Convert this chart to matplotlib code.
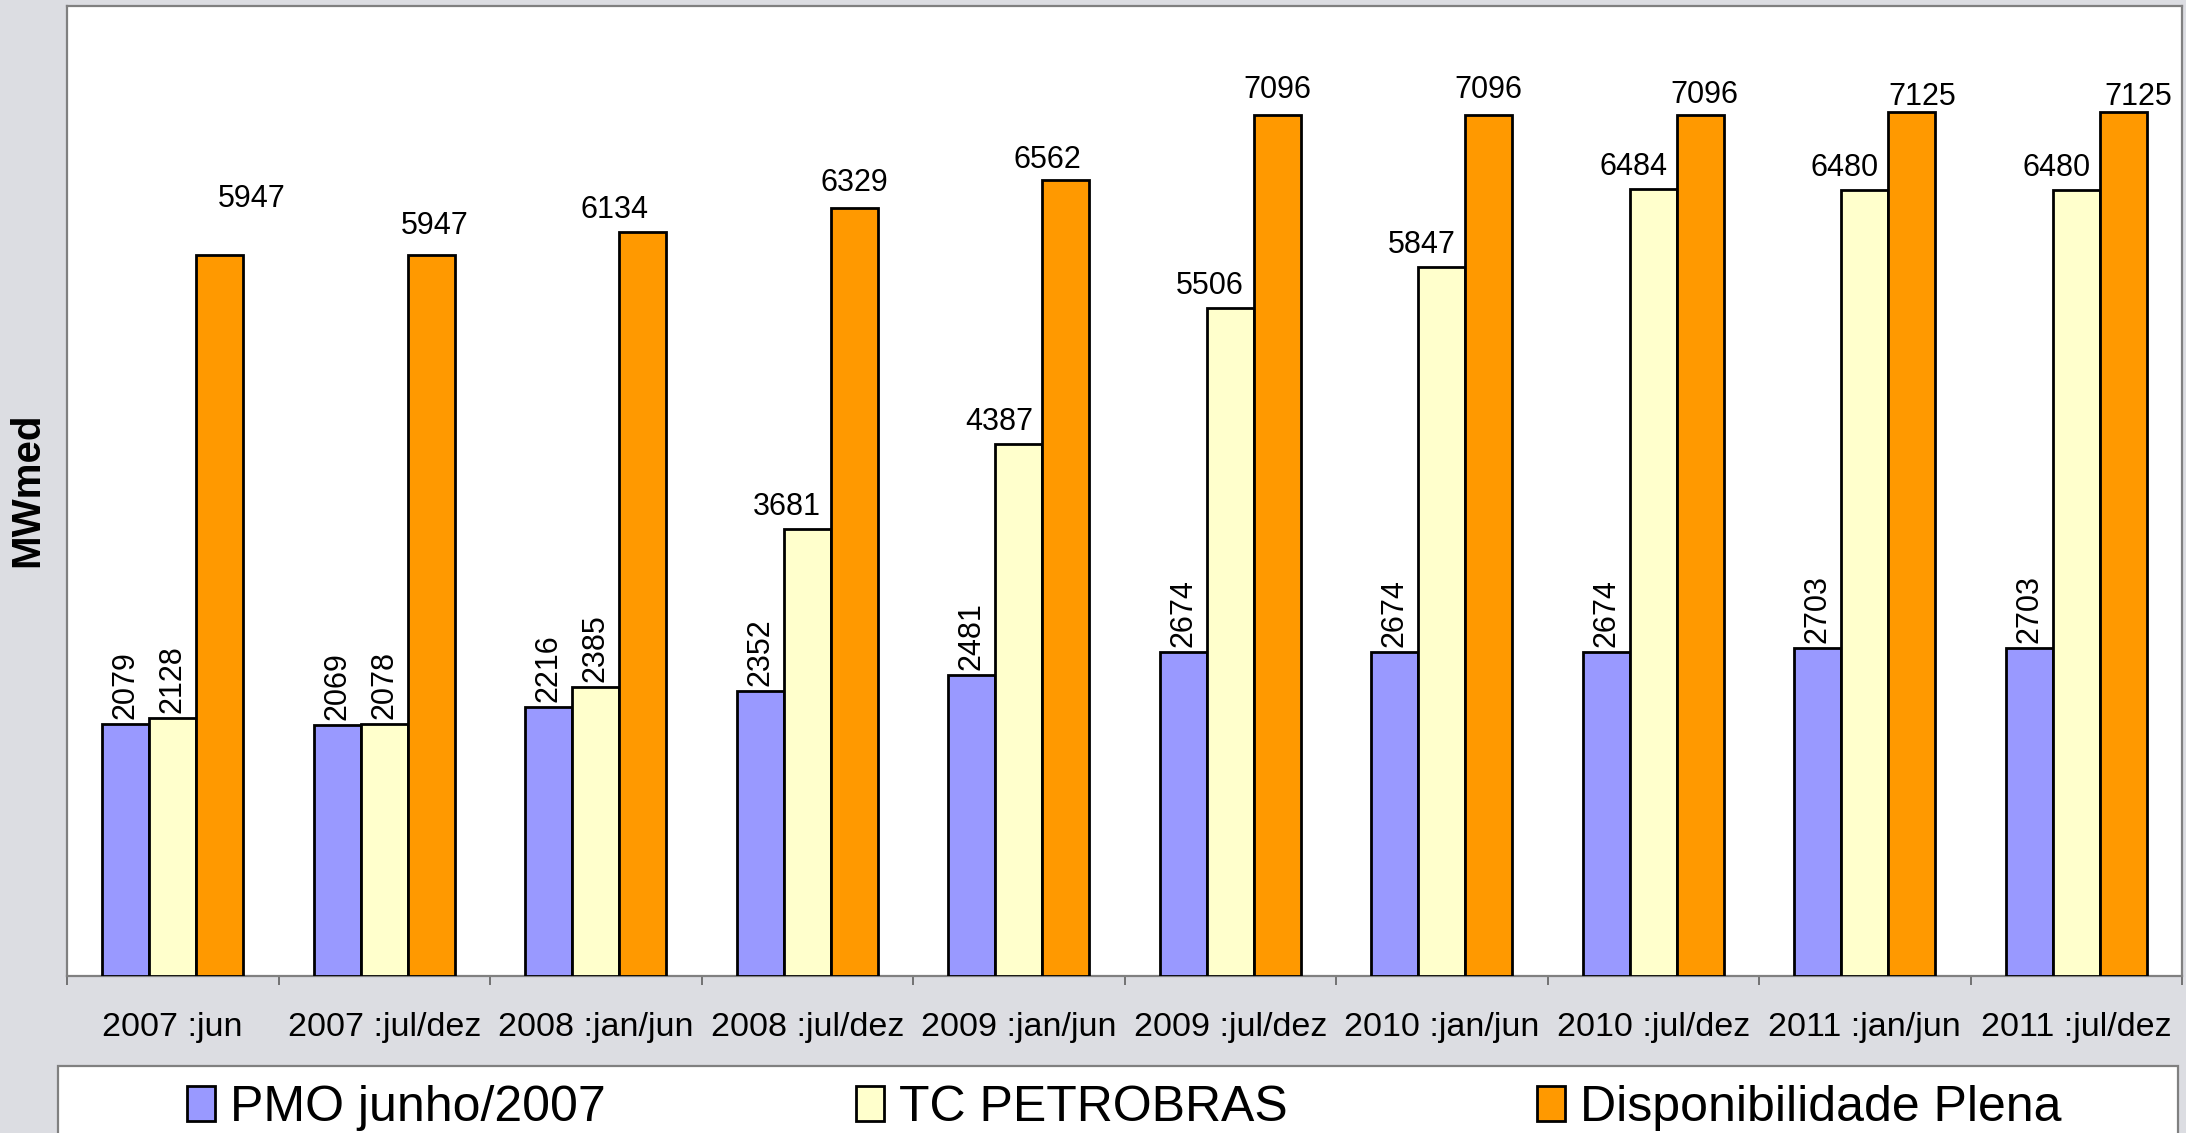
import numpy as np
import matplotlib
matplotlib.use("Agg")
from matplotlib import pyplot as plt
from matplotlib.patches import Patch, Rectangle

# data
periods = ["2007 :jun", "2007 :jul/dez", "2008 :jan/jun", "2008 :jul/dez",
           "2009 :jan/jun", "2009 :jul/dez", "2010 :jan/jun", "2010 :jul/dez",
           "2011 :jan/jun", "2011 :jul/dez"]
pmo = [2079, 2069, 2216, 2352, 2481, 2674, 2674, 2674, 2703, 2703]
tc_petrobras = [2128, 2078, 2385, 3681, 4387, 5506, 5847, 6484, 6480, 6480]
disp_plena = [5947, 5947, 6134, 6329, 6562, 7096, 7096, 7096, 7125, 7125]
series_names = ["PMO junho/2007", "TC PETROBRAS", "Disponibilidade Plena"]

# label nudges (pixels) for the orange labels, as placed in the original
orange_dx = [32, 4, -28, 0, -18, 0, 0, 4, 11, 15]
orange_dy = [56, 29, 22, 25, 20, 25, 25, 20, 15, 15]

colors = ["#9999FF", "#FFFFCC", "#FF9900"]
bg = "#DCDDE2"
plt.rcParams['font.family'] = ['Liberation Sans', 'DejaVu Sans']

W, H = 2186, 1133
fig = plt.figure(figsize=(W / 100, H / 100), dpi=100, facecolor=bg)
ax = fig.add_axes([67 / W, 1 - 976 / H, (2182 - 67) / W, (976 - 5.6) / H])
ax.set_facecolor("white")

x = np.arange(len(periods))
bw = 0.222
px = 0.72  # points per pixel at dpi 100

for k, vals in enumerate([pmo, tc_petrobras, disp_plena]):
    pos = x + (k - 1) * bw
    ax.bar(pos, vals, width=bw, color=colors[k], edgecolor="black", linewidth=2.0, zorder=3)
    for i, (p, v) in enumerate(zip(pos, vals)):
        if v < 3000:
            ax.annotate(str(v), (p, v), xytext=(0, 5 * px), textcoords="offset points",
                        ha="center", va="bottom", rotation=90, fontsize=22)
        elif k == 2:
            ax.annotate(str(v), (p, v), xytext=(orange_dx[i] * px, orange_dy[i] * px),
                        textcoords="offset points", ha="center", va="center", fontsize=22)
        else:
            ax.annotate(str(v), (p, v), xytext=(-20 * px, 22 * px),
                        textcoords="offset points", ha="center", va="center", fontsize=22)

ax.set_xlim(-0.5, len(periods) - 0.5)
ax.set_ylim(0, 8000)
ax.set_yticks([])
ax.set_xticks(x)
ax.set_xticklabels(periods, fontsize=24.5)
ax.set_xticks(np.arange(len(periods) + 1) - 0.5, minor=True)
ax.tick_params(axis="x", which="major", length=0, pad=26)
ax.tick_params(axis="x", which="minor", length=6.5, width=1.2, color="#606060", direction="out")
for s in ax.spines.values():
    s.set_color("#808080")
    s.set_linewidth(1.6)

fig.text(27.5 / W, 1 - 490 / H, "MWmed", rotation=90, ha="center", va="center",
         fontsize=29, fontweight="bold")

# legend box across the bottom
fig.add_artist(Rectangle((58 / W, -0.02), (2178 - 58) / W, (1133 - 1066) / H + 0.02,
                         transform=fig.transFigure, facecolor="white",
                         edgecolor="#808080", linewidth=1.6))
handles = [Patch(facecolor=c, edgecolor="black", linewidth=2.0) for c in colors]
fig.legend(handles, series_names, loc="center left", bbox_to_anchor=(187 / W, 1 - 1108 / H),
           ncol=3, frameon=False, fontsize=36, borderpad=0, handlelength=0.56,
           handleheight=0.7, handletextpad=0.3, columnspacing=5.0, borderaxespad=0)

fig.savefig("out.png", dpi=100, facecolor=bg)
